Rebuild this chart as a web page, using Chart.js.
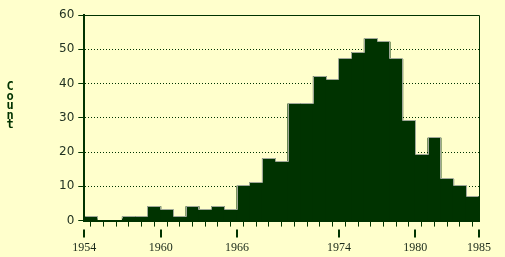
<!DOCTYPE html>
<html>
<head>
<meta charset="utf-8">
<script src="https://cdn.jsdelivr.net/npm/chart.js@4"></script>
<style>
  html, body { margin: 0; padding: 0; background: #ffffcc; }
  #wrap { position: relative; width: 505px; height: 257px; }
  #ytitle {
    position: absolute; left: 3px; top: 82px; width: 14px;
    font: bold 12px "DejaVu Sans Mono", monospace; line-height: 9.5px;
    color: #003300; text-align: center;
  }
</style>
</head>
<body>
<div id="wrap">
  <canvas id="myChart" width="505" height="257"></canvas>
  <div id="ytitle">C<br>o<br>u<br>n<br>t</div>
</div>
<script>
'use strict';

// one bin per year, 1954 .. 1984
const years = [
  1954, 1955, 1956, 1957, 1958, 1959, 1960, 1961, 1962, 1963, 1964,
  1965, 1966, 1967, 1968, 1969, 1970, 1971, 1972, 1973, 1974, 1975,
  1976, 1977, 1978, 1979, 1980, 1981, 1982, 1983, 1984
];
const counts = [
  1, 0, 0, 1, 1, 4, 3, 1, 4, 3, 4,
  3, 10, 11, 18, 17, 34, 34, 42, 41, 47, 49,
  53, 52, 47, 29, 19, 24, 12, 10, 7
];
const labelYears = [1954, 1960, 1966, 1974, 1980, 1985];
const yTicks = [0, 10, 20, 30, 40, 50, 60];

const ink = '#003300';

// bars sit between year ticks
const points = [];
for (let i = 0; i < years.length; i++) {
  points.push({ x: years[i] + 0.5, y: counts[i] });
}

// thin grey step line along the tops of the bars
const outlinePlugin = {
  id: 'outline',
  afterDatasetsDraw(chart) {
    const ctx = chart.ctx;
    const area = chart.chartArea;
    const bars = chart.getDatasetMeta(0).data;
    const rowOf = function (b) { return Math.floor(b.y - 0.6) + 0.5; };
    ctx.save();
    // keep it off the x axis line
    ctx.beginPath();
    ctx.rect(area.left, area.top, area.right - area.left, area.bottom - 2 - area.top);
    ctx.clip();
    ctx.strokeStyle = '#a0a898';
    ctx.lineWidth = 1;
    ctx.beginPath();
    bars.forEach(function (b, i) {
      const y = rowOf(b);
      const xl = Math.floor(b.x - b.width / 2) + 0.5;
      const xr = Math.floor(b.x + b.width / 2) + 0.5;
      if (i === 0) ctx.moveTo(xl + 1, y);
      ctx.lineTo(xr, y);
      if (i < bars.length - 1) ctx.lineTo(xr, rowOf(bars[i + 1]));
    });
    ctx.stroke();
    ctx.restore();
  }
};

// top/right frame and the long ticks under labelled years
const framePlugin = {
  id: 'frame',
  afterDraw(chart) {
    const ctx = chart.ctx;
    const area = chart.chartArea;
    const xs = chart.scales.x;
    ctx.save();
    ctx.strokeStyle = ink;
    ctx.lineWidth = 1;
    ctx.beginPath();
    ctx.moveTo(area.left, area.top + 0.5);
    ctx.lineTo(area.right + 0.5, area.top + 0.5);
    ctx.lineTo(area.right + 0.5, area.bottom);
    ctx.stroke();
    ctx.lineWidth = 2;
    labelYears.forEach(function (v) {
      const x = Math.round(xs.getPixelForValue(v));
      ctx.beginPath();
      ctx.moveTo(x, area.bottom + 9);
      ctx.lineTo(x, area.bottom + 17);
      ctx.stroke();
    });
    ctx.restore();
  }
};

const ctx = document.getElementById('myChart').getContext('2d');
const chart = new Chart(ctx, {
  type: 'bar',
  data: {
    datasets: [{
      data: points,
      backgroundColor: ink,
      borderWidth: 0,
      inflateAmount: 0.6,
      barPercentage: 1,
      categoryPercentage: 1
    }]
  },
  options: {
    responsive: false,
    animation: false,
    layout: { padding: { left: 55, right: 21, top: 15, bottom: -12 } },
    plugins: {
      legend: { display: false },
      tooltip: { enabled: false }
    },
    scales: {
      x: {
        type: 'linear',
        min: 1954,
        max: 1985,
        offset: false,
        afterBuildTicks: function (scale) {
          scale.ticks = years.concat([1985]).map(function (v) { return { value: v }; });
        },
        ticks: {
          autoSkip: false,
          maxRotation: 0,
          padding: 14,
          color: '#1a2a1a',
          font: { family: 'Liberation Serif', size: 12 },
          callback: function (v) { return labelYears.includes(v) ? String(v) : ''; }
        },
        grid: {
          drawOnChartArea: false,
          drawTicks: true,
          tickLength: 6,
          color: ink,
          lineWidth: 1
        },
        border: { display: true, color: ink, width: 2 }
      },
      y: {
        min: 0,
        max: 60,
        afterBuildTicks: function (scale) {
          scale.ticks = yTicks.map(function (v) { return { value: v }; });
        },
        ticks: {
          padding: 4,
          color: '#223322',
          font: { family: 'DejaVu Sans', size: 12 }
        },
        grid: {
          color: ink,
          lineWidth: 1,
          tickLength: 6,
          tickColor: ink
        },
        border: { display: true, color: ink, width: 2, dash: [1, 2] }
      }
    }
  },
  plugins: [outlinePlugin, framePlugin]
});
</script>
</body>
</html>
